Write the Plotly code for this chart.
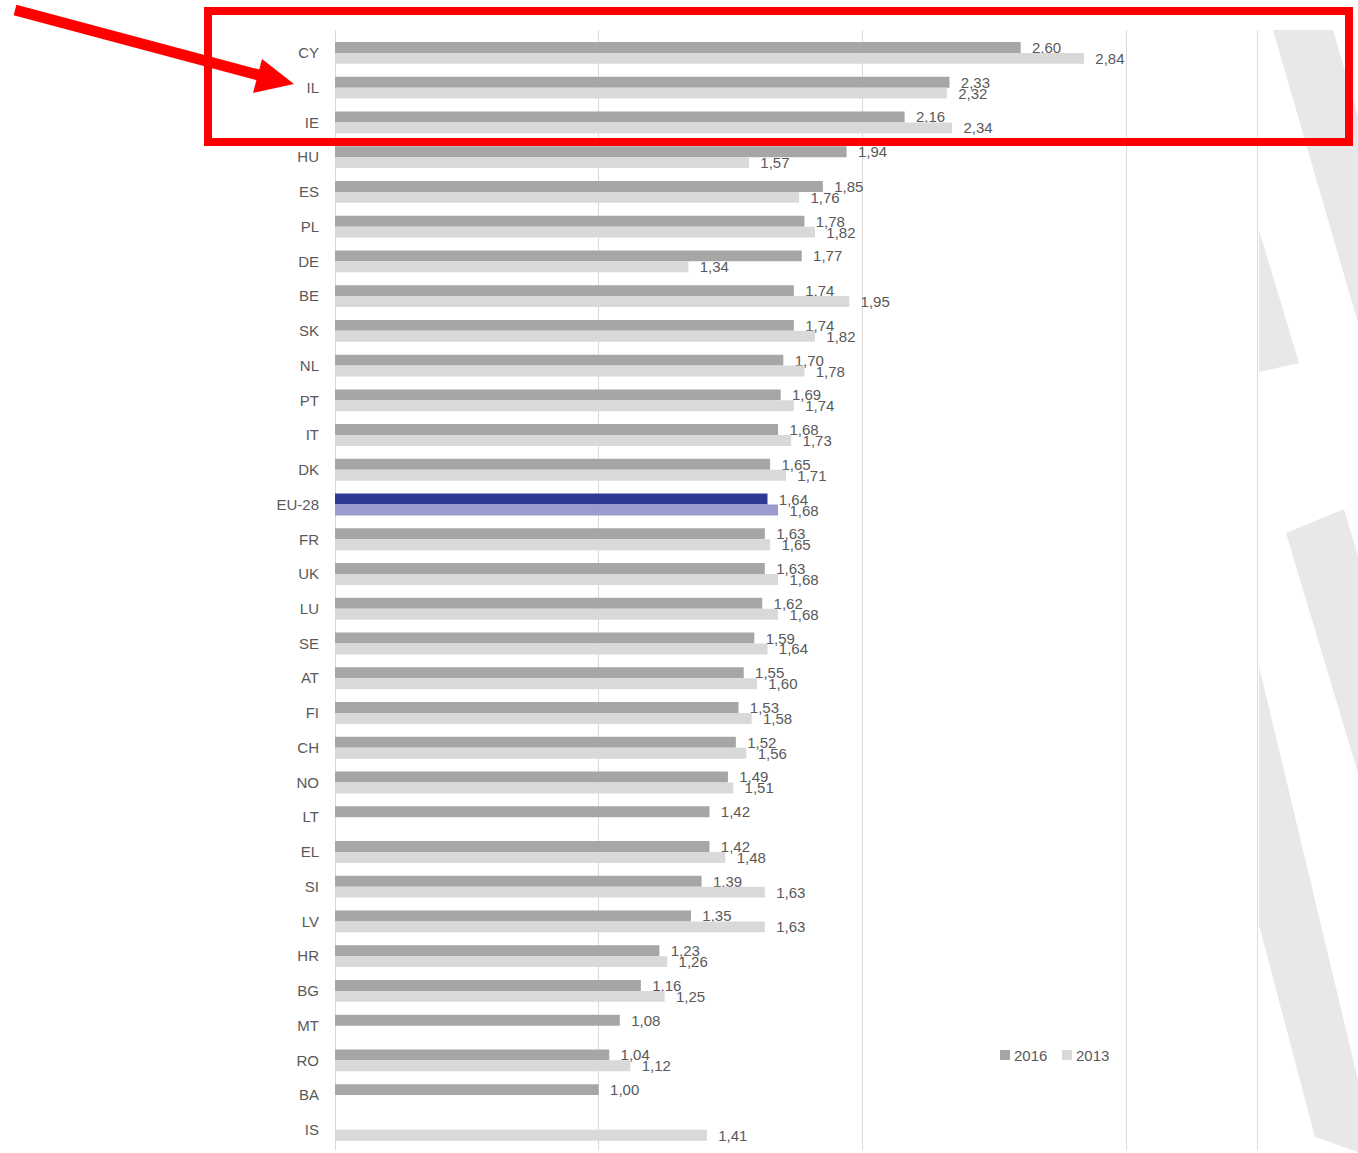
import plotly.graph_objects as go

countries = ["CY", "IL", "IE", "HU", "ES", "PL", "DE", "BE", "SK", "NL", "PT", "IT", "DK",
             "EU-28", "FR", "UK", "LU", "SE", "AT", "FI", "CH", "NO", "LT", "EL", "SI", "LV",
             "HR", "BG", "MT", "RO", "BA", "IS"]
v2016 = [2.60, 2.33, 2.16, 1.94, 1.85, 1.78, 1.77, 1.74, 1.74, 1.70, 1.69, 1.68, 1.65,
         1.64, 1.63, 1.63, 1.62, 1.59, 1.55, 1.53, 1.52, 1.49, 1.42, 1.42, 1.39, 1.35,
         1.23, 1.16, 1.08, 1.04, 1.00, None]
v2013 = [2.84, 2.32, 2.34, 1.57, 1.76, 1.82, 1.34, 1.95, 1.82, 1.78, 1.74, 1.73, 1.71,
         1.68, 1.65, 1.68, 1.68, 1.64, 1.60, 1.58, 1.56, 1.51, None, 1.48, 1.63, 1.63,
         1.26, 1.25, None, 1.12, None, 1.41]
series_names = ["2016", "2013"]
highlight = "EU-28"

W, H = 1358, 1153
L, R, T, B = 335, 100, 30, 3
PW, PH = W - L - R, H - T - B


def px(x):
    return (x - L) / PW


def py(y):
    return (H - B - y) / PH


def poly(points):
    return "M " + " L ".join(f"{px(a):.5f},{py(b):.5f}" for a, b in points) + " Z"


col16, col13 = "#a6a6a6", "#d9d9d9"
c16 = ["#2e3a94" if c == highlight else col16 for c in countries]
c13 = ["#9b9bd0" if c == highlight else col13 for c in countries]

fig = go.Figure()
fig.add_trace(go.Bar(y=countries, x=v2016, orientation="h", name=series_names[0],
                     marker=dict(color=c16, line=dict(width=0)),
                     texttemplate="  %{x:.2f}", textposition="outside", constraintext="none",
                     textfont=dict(size=15, color="#595959"), cliponaxis=False,
                     showlegend=False))
fig.add_trace(go.Bar(y=countries, x=v2013, orientation="h", name=series_names[1],
                     marker=dict(color=c13, line=dict(width=0)),
                     texttemplate="  %{x:.2f}", textposition="outside", constraintext="none",
                     textfont=dict(size=15, color="#595959"), cliponaxis=False,
                     showlegend=False))

shapes = []
grey = "#e8e8e8"
for pts in [
    [(1273, 30), (1333, 30), (1358, 116), (1358, 323)],
    [(1259, 230), (1299, 363), (1259, 372)],
    [(1286, 533), (1344, 509), (1358, 556), (1358, 773)],
    [(1259, 666), (1358, 1080), (1358, 1152), (1315, 1137), (1259, 925)],
]:
    shapes.append(dict(type="path", path=poly(pts), xref="paper", yref="paper",
                       fillcolor=grey, line=dict(width=0), layer="below"))

shapes.append(dict(type="line", x0=3.5, x1=3.5, xref="x", y0=0, y1=1, yref="paper",
                   line=dict(color="#d0d0d0", width=1.5), layer="above"))

# compact legend, as in the reference
annotations = []
legend_items = [(series_names[0], col16, 1000), (series_names[1], col13, 1062)]
for name, col, x0 in legend_items:
    shapes.append(dict(type="rect", xref="paper", yref="paper",
                       x0=px(x0), x1=px(x0 + 10), y0=py(1060), y1=py(1050),
                       fillcolor=col, line=dict(width=0)))
    annotations.append(dict(text=name, xref="paper", yref="paper", x=px(x0 + 12), y=py(1055),
                            xanchor="left", yanchor="middle", showarrow=False,
                            font=dict(size=15, color="#595959")))

# red highlight box
shapes.append(dict(type="rect", xref="paper", yref="paper",
                   x0=px(208), x1=px(1349), y0=py(142), y1=py(11),
                   line=dict(color="#ff0000", width=8), layer="above"))
# red arrow
shapes.append(dict(type="line", xref="paper", yref="paper",
                   x0=px(15), y0=py(10), x1=px(266), y1=py(77),
                   line=dict(color="#ff0000", width=11), layer="above"))
shapes.append(dict(type="path", xref="paper", yref="paper",
                   path=poly([(262, 59), (253, 93), (294, 84)]),
                   fillcolor="#ff0000", line=dict(width=0), layer="above"))

fig.update_layout(
    width=W, height=H,
    margin=dict(l=L, r=R, t=T, b=B, pad=0),
    paper_bgcolor="white", plot_bgcolor="rgba(0,0,0,0)",
    barmode="group", bargap=0.37, bargroupgap=0,
    separators=", ",
    font=dict(family="Liberation Sans, Arial, sans-serif", color="#595959", size=15),
    xaxis=dict(range=[0, 3.5], dtick=1, tick0=0, showgrid=True, gridcolor="#d9d9d9",
               gridwidth=1, zeroline=True, zerolinecolor="#d9d9d9", zerolinewidth=1,
               showticklabels=False, showline=False, fixedrange=True),
    yaxis=dict(categoryorder="array", categoryarray=countries,
               range=[len(countries) - 1 + 0.58, -0.66], showgrid=False,
               ticks="outside", ticklen=12, tickcolor="rgba(0,0,0,0)",
               tickfont=dict(size=15, color="#595959"), showline=False, zeroline=False),
    shapes=shapes,
    annotations=annotations,
    showlegend=False,
)

fig.write_html("out.html", config={"displayModeBar": False},
               post_script="document.body.style.margin='0';document.body.style.overflow='hidden';")
